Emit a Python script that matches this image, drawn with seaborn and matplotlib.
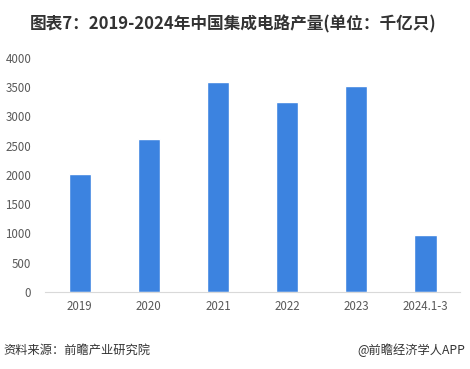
import numpy as np
import pandas as pd
import matplotlib
matplotlib.use("Agg")
import matplotlib.pyplot as plt
import seaborn as sns

# Chart data
years = ["2019", "2020", "2021", "2022", "2023", "2024.1-3"]
output = [2018, 2614, 3594, 3242, 3514, 981]
yticks = [0, 500, 1000, 1500, 2000, 2500, 3000, 3500, 4000]

sns.set_style("white")
plt.rcParams['font.family'] = ['Noto Sans CJK SC', 'DejaVu Sans']

df = pd.DataFrame({"year": years, "value": output})

fig = plt.figure(figsize=(4.70, 3.69), dpi=100)
ax = fig.add_axes([0.096, 0.209, 0.883, 0.634])
sns.barplot(data=df, x="year", y="value", color="#3c83e0", saturation=1,
            width=0.32, ax=ax)

ax.set_ylim(0, 4000)
ax.set_xlim(-0.5, 5.5)
ax.set_yticks(yticks)
ax.set_xlabel("")
ax.set_ylabel("")
ax.tick_params(axis="both", length=0, labelsize=8.3, colors="#595959")
ax.tick_params(axis="x", pad=6)
ax.tick_params(axis="y", pad=10)
for s in ["top", "right", "left"]:
    ax.spines[s].set_visible(False)
ax.spines["bottom"].set_color("#d9d9d9")
ax.spines["bottom"].set_linewidth(0.8)

fig.text(0.497, 0.935, "图表7：2019-2024年中国集成电路产量(单位：千亿只)",
         ha="center", va="center", fontsize=12, fontweight="bold", color="#333333")
fig.text(0.008, 0.052, "资料来源：前瞻产业研究院", ha="left", va="center",
         fontsize=8.8, color="#333333")
fig.text(0.99, 0.052, "@前瞻经济学人APP", ha="right", va="center",
         fontsize=8.8, color="#333333")

fig.savefig("out.png", dpi=100)
